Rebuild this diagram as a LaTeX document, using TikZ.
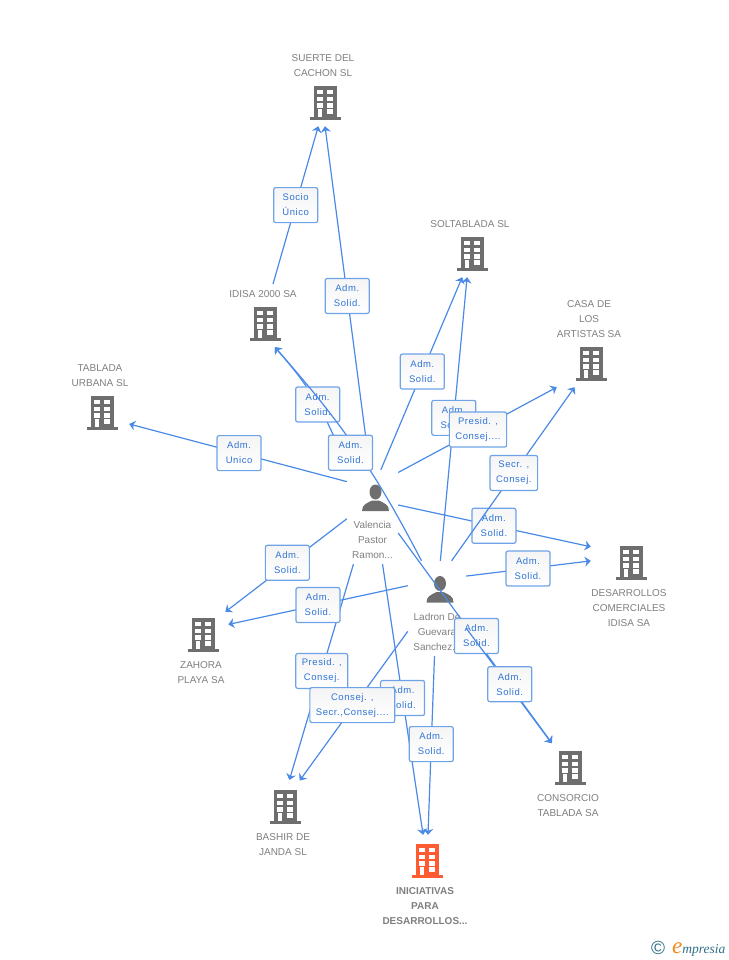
\documentclass[tikz,border=0pt]{standalone}
\usepackage{fontspec}
\setmainfont{Liberation Sans}
\newfontfamily\tagfont[LetterSpace=6]{Liberation Sans}
\newfontfamily\logofont{Liberation Serif}
\usepackage{tikz}
\usetikzlibrary{arrows.meta}
\definecolor{linkblue}{HTML}{4A8AE6}
\definecolor{boxblue}{HTML}{6FA3E8}
\definecolor{tagblue}{HTML}{2F74D6}
\definecolor{iconcol}{HTML}{6E6E6E}
\definecolor{mainicon}{HTML}{FF5B33}
\definecolor{captioncol}{HTML}{7F7F7F}
\definecolor{logoteal}{HTML}{2F6F86}
\definecolor{logoorange}{HTML}{F08A1C}
\tikzset{
	company/.style={rectangle,minimum width=54pt,minimum height=46pt,inner sep=0pt},
	person/.style={rectangle,minimum width=51pt,minimum height=94pt,inner sep=0pt},
	caption/.style={align=center,inner sep=0pt,xshift=-2pt,text=captioncol,font=\fontsize{10}{15}\selectfont},
	capup/.style={caption,yshift=3.5pt},
	capdown/.style={caption,yshift=-3.5pt},
	tag/.style={draw=boxblue,top color=black!4,bottom color=white,rounded corners=2pt,line width=1.2pt,text=tagblue,align=center,
		minimum width=44pt,minimum height=35pt,inner xsep=6pt,inner ysep=0pt,font=\tagfont\fontsize{9.5}{15}\selectfont},
	link/.style={-{Stealth[length=6pt,width=10pt]},color=linkblue,line width=1.2pt},
	pics/building/.style={code={
		\fill[#1] (-11.5,-17) rectangle (11.5,14.5);
		\fill[#1] (-15.5,14.3) rectangle (15.5,17);
		\foreach \wy in {-13,-6.3,0.3} {
			\fill[white] (-7.7,\wy) rectangle ++(5.4,4.4);
			\fill[white] (2.3,\wy) rectangle ++(5.4,4.4);
		}
		\fill[white] (-7.2,6.3) rectangle (-2.6,14.3);
		\fill[white] (2.3,6.3) rectangle (7.7,11);
	}},
	pics/figure/.style={code={
		\fill[iconcol] (0,-5.5) ellipse (6 and 7.5);
		\fill[iconcol] (-13.5,13.5) .. controls (-13.5,7) and (-9,6) .. (-3.5,3) -- (3.5,3)
			.. controls (9,6) and (13.5,7) .. (13.5,13.5) -- cycle;
	}}
}
\begin{document}
\begin{tikzpicture}[x=1pt,y=-1pt,node distance=23pt]
	\useasboundingbox (0,0) rectangle (728,960);

	\node[company,label={[capup,name=suertetxt]above:SUERTE DEL\\CACHON SL}] (suerte) at (325,103) {};
	\node[company,label={[capup,name=soltatxt]above:SOLTABLADA SL}] (solta) at (472,254) {};
	\node[company,minimum width=68pt,label={[capup,name=casatxt]above:CASA DE\\LOS\\ARTISTAS SA}] (casa) at (591,364) {};
	\node[company,label={[capup,name=idisatxt]above:IDISA 2000 SA}] (idisa) at (265,324) {};
	\node[company,label={[capup,name=tabladatxt]above:TABLADA\\URBANA SL}] (tablada) at (102,413) {};
	\node[company,minimum width=80pt,label={[capdown,name=desartxt]below:DESARROLLOS\\COMERCIALES\\IDISA SA}] (desar) at (631,563) {};
	\node[company,label={[capdown,name=zahoratxt]below:ZAHORA\\PLAYA SA}] (zahora) at (203,635) {};
	\node[company,label={[capdown,name=consorciotxt]below:CONSORCIO\\TABLADA SA}] (consorcio) at (570,768) {};
	\node[company,label={[capdown,name=bashirtxt]below:BASHIR DE\\JANDA SL}] (bashir) at (285,807) {};
	\node[company,label={[capdown,name=inictxt,font=\fontsize{10}{15}\selectfont\bfseries]below:INICIATIVAS\\PARA\\DESARROLLOS...}] (inic) at (427,861) {};

	\foreach \n in {suerte,solta,casa,idisa,tablada,desar,zahora,consorcio,bashir}
		\pic at (\n) {building=iconcol};
	\pic at (inic) {building=mainicon};

	\node[person] (val) at (372.5,517) {};
	\node[person,minimum width=58pt,minimum height=95pt] (lad) at (437,608.5) {};
	\foreach \n in {val,lad}
		\pic at ([shift={(3,-19.5)}]\n.center) {figure};
	\node[caption,xshift=2pt] (valtxt) [below of=val] {Valencia\\Pastor\\Ramon...};
	\node[caption,xshift=2pt] (ladtxt) [below of=lad] {Ladron De\\Guevara\\Sanchez...};

	\coordinate (idisatop) at (273,284);

	\path[link]
	(idisatop) edge node[tag,pos=.5] (socio) {Socio\\Único} (suerte)
	(val.93) edge node[tag,pos=.506] (vsuerte) {Adm.\\Solid.} (suerte.south)
	(val.80) edge node[tag,pos=.51] (vsolta) {Adm.\\Solid.} (solta)
	(val.north west) edge[bend right=11] node[tag,pos=.5] (vidisa) {Adm.\\Solid.} (idisa.-67)
	(val.126) edge node[tag,pos=.495] (vtablada) {Adm.\\Unico} (tablada.-22)
	(val.25) edge node[tag,pos=.497] (vdesar) {Adm.\\Solid.} (desar.158)
	(val.-176) edge node[tag,pos=.473,xshift=-2pt] (vzahora) {Adm.\\Solid.} (zahora.46)
	(val.-32) edge[shorten >=2pt] node[tag,pos=.486,xshift=3pt] (vconsorcio) {Adm.\\Solid.} (consorcio)
	(val.-112.5) edge[shorten >=4pt] node[tag,pos=.486] (vbashir) {Presid. ,\\Consej.} (bashir.82)
	(val.-78.6) edge[shorten >=3pt] node[tag,pos=.489] (vinic) {Adm.\\Solid.} (inic)
	;

	\path[link]
	(lad.108.6) edge[bend right=7] node[tag,pos=.48,xshift=-8pt] (lidisa) {Adm.\\Solid.} (idisa.-67)
	(lad.86.4) edge node[tag,pos=.504] (lsolta) {Adm.\\Solid.} (solta.-102)
	(lad.73.6) edge node[tag,pos=.506] (lcasa) {Secr. ,\\Consej.} (casa)
	(lad.48) edge node[tag,pos=.496] (ldesar) {Adm.\\Solid.} (desar.177)
	(lad.142) edge[shorten >=-2pt] node[tag,pos=.506] (lzahora) {Adm.\\Solid.} (zahora.22)
	(lad.-34) edge[shorten >=2pt] node[tag,pos=.48,xshift=2pt] (lconsorcio) {Adm.\\Solid.} (consorcio)
	(lad.-142) edge[shorten >=4pt] node[tag,pos=.484,xshift=-2pt] (lbashir) {Consej. ,\\Secr.,Consej....} (bashir.62)
	(lad.-93.6) edge[shorten >=3pt] node[tag,pos=.484] (linic) {Adm.\\Solid.} (inic)
	(val.60) edge node[tag,pos=.503] (vcasa) {Presid. ,\\Consej....} (casa.south west)
	;

	\node[text=logoteal,font=\fontsize{19}{19}\selectfont] (copy) at (658,948) {©};
	\node[anchor=base west,inner sep=0pt,text=logoteal,font=\logofont\itshape\fontsize{13.5}{15}\selectfont] (logo) at (672,953)
		{{\color{logoorange}\fontsize{23}{23}\selectfont e}mpresia};
\end{tikzpicture}
\end{document}
